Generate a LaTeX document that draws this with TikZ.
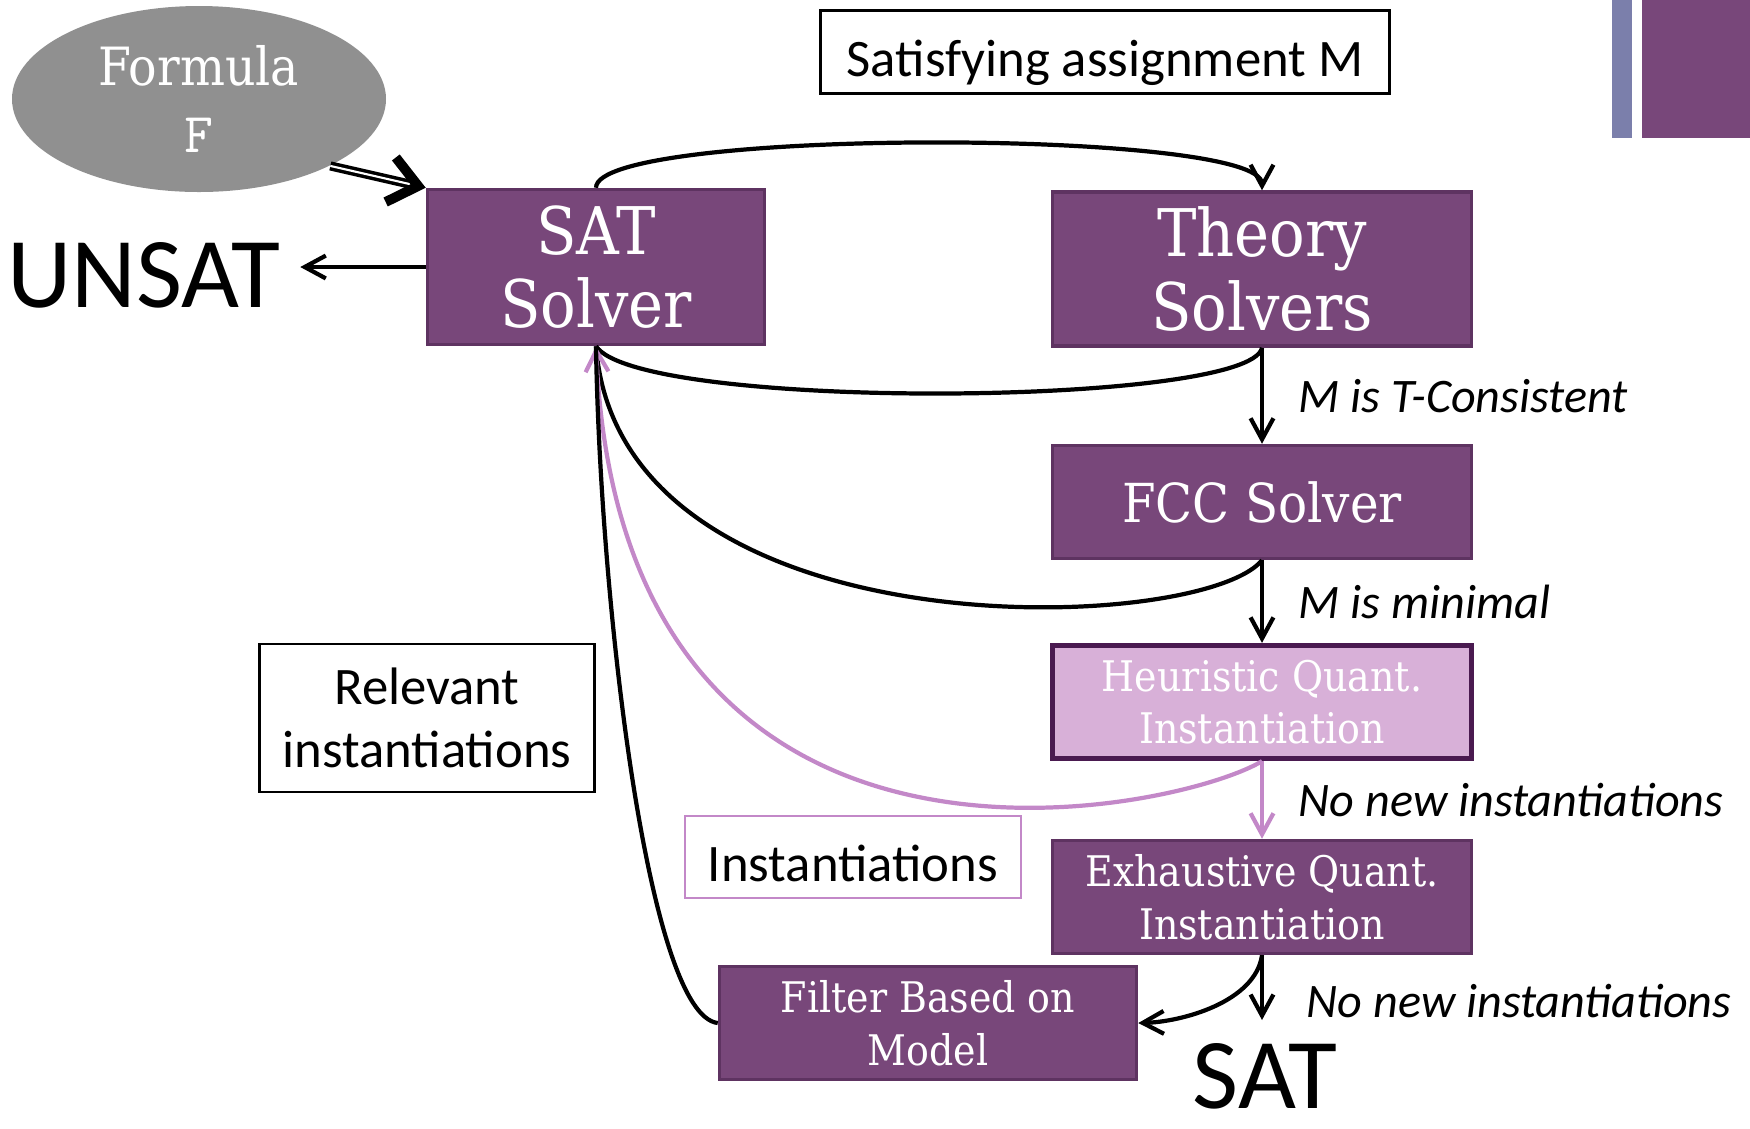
\documentclass[tikz,border=0pt]{standalone}
\usepackage{fontspec}
\setmainfont{Carlito}
\newfontfamily\slabfont{DejaVu Serif Condensed}
\usetikzlibrary{arrows.meta}
\usetikzlibrary{shapes.geometric}
\definecolor{boxfill}{HTML}{78477A}
\definecolor{boxedge}{HTML}{5E3361}
\definecolor{heurfill}{HTML}{D8B0D8}
\definecolor{heuredge}{HTML}{4A1A50}
\definecolor{instpink}{HTML}{C388C8}
\definecolor{decoblue}{HTML}{7B7FAB}
\definecolor{formgray}{HTML}{909090}

\begin{document}
\begin{tikzpicture}[y=-1cm,
    solver box/.style={draw=boxedge,fill=boxfill,line width=1pt,text=white,align=center,inner sep=0pt},
    note box/.style={draw,line width=0.6pt,align=center,inner sep=0pt,font=\fontsize{15}{18}\selectfont},
    link/.style={line width=1.2pt,-{Straight Barb[length=6pt,width=6.5pt]}},
    cond/.style={font=\fontsize{13.7}{16}\selectfont\itshape,midway,right,xshift=0.23cm}]
    \useasboundingbox (0,0) rectangle (17.5,11.28);

    \fill[decoblue] (16.12,0) rectangle (16.32,1.38);
    \fill[boxfill] (16.42,0) rectangle (17.5,1.38);

    \node[ellipse,fill=formgray,minimum width=3.74cm,minimum height=1.86cm,align=center,text=white] (form) at (1.99,0.99)
        {{\slabfont\fontsize{15}{18}\selectfont Formula}\\[7pt]{\ttfamily\fontsize{16}{19}\selectfont F}};
    \node[solver box,minimum width=3.37cm,minimum height=1.55cm,font=\slabfont\fontsize{18.7}{21}\selectfont] (sat) at (5.96,2.67) {SAT\\Solver};
    \node[solver box,minimum width=4.19cm,minimum height=1.54cm,font=\slabfont\fontsize{18.7}{21}\selectfont] (theory) at (12.62,2.69) {Theory\\Solvers};
    \node[solver box,minimum width=4.19cm,minimum height=1.13cm,font=\slabfont\fontsize{15.3}{18}\selectfont] (fcc) at (12.62,5.02) {FCC Solver};
    \node[solver box,fill=heurfill,draw=heuredge,line width=1.5pt,minimum width=4.19cm,minimum height=1.13cm,font=\slabfont\fontsize{12}{15}\selectfont] (heur) at (12.62,7.02) {Heuristic Quant.\\Instantiation};
    \node[solver box,minimum width=4.19cm,minimum height=1.13cm,font=\slabfont\fontsize{12}{15}\selectfont] (exh) at (12.62,8.97) {Exhaustive Quant.\\Instantiation};
    \node[solver box,minimum width=4.17cm,minimum height=1.13cm,font=\slabfont\fontsize{12}{15}\selectfont] (filt) at (9.28,10.23) {Filter Based on\\Model};

    \node[note box,minimum width=5.69cm,minimum height=0.83cm,text height=0.48cm,text depth=0pt] (model) at (11.05,0.52) {Satisfying assignment M};
    \node[note box,minimum width=3.35cm,minimum height=1.48cm] (relev) at (4.27,7.18) {Relevant\\instantiations};
    \node[note box,draw=instpink,minimum width=3.36cm,minimum height=0.82cm,text height=0.48cm,text depth=0pt] (inst) at (8.53,8.57) {Instantiations};

    \node[font=\fontsize{28.5}{32}\selectfont,inner sep=0.19cm] (unsat) at (1.44,2.75) {UNSAT};
    \node[font=\fontsize{28.5}{32}\selectfont,inner sep=0pt] (sattxt) at (12.65,10.76) {SAT};
    \coordinate (satdrop) at (12.62,10.20);

    \draw[double,line width=1pt,-{Straight Barb[length=8pt,width=13pt,line width=2.8pt]}] (form.-27) -- (sat.north west);
    \draw[link] (sat.west) -- (sat.west -| unsat.east);
    \draw[link] (sat.north) .. controls +(0,-0.6) and +(0,-0.62) .. (theory.north);
    \draw[line width=1.2pt] (theory.south) .. controls +(-0.12,0.59) and +(0.44,0.65) .. (sat.south);
    \draw[link] (theory) -- node[cond] {M is T-Consistent} (fcc);
    \draw[line width=1.2pt] (fcc.south) .. controls +(-0.62,0.75) and +(0.24,3.1) .. (sat.south);
    \draw[link] (fcc) -- node[cond] {M is minimal} (heur);
    \draw[link,instpink] (heur.south) .. controls +(-0.82,0.5) and +(0.24,5.9) .. (sat.south);
    \draw[link,instpink] (heur) -- node[cond,text=black] {No new instantiations} (exh);
    \draw[link] (exh.south) .. controls +(-0.07,0.47) and +(0.43,-0.01) .. (filt.east);
    \draw[link] (exh.south) -- node[cond,pos=0.7,xshift=0.08cm] {No new instantiations} (satdrop);
    \draw[line width=1.2pt] (filt.west) .. controls +(-0.7,-0.08) and +(0.04,2.55) .. (sat.south);
\end{tikzpicture}
\end{document}
